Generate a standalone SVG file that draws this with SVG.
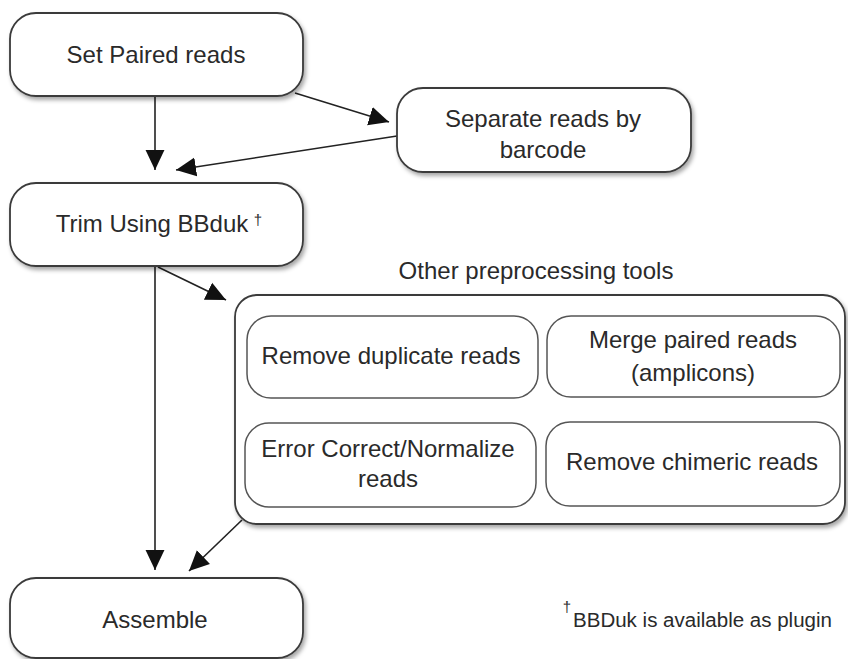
<svg xmlns="http://www.w3.org/2000/svg" width="848" height="659" viewBox="0 0 848 659">
<style>
.box{fill:#fff;stroke:#3a3a3a;stroke-width:1.8;filter:url(#sh)}
.inner{fill:#fff;stroke:#555;stroke-width:1.5}
text{font-family:"Liberation Sans",Arial,sans-serif;font-size:24px;fill:#2a2a2a;text-anchor:middle}
.edge{stroke:#222;stroke-width:1.6;fill:none;marker-end:url(#ah)}
</style>
<defs>
<filter id="sh" x="-10%" y="-10%" width="125%" height="130%">
<feDropShadow dx="2" dy="3" stdDeviation="2" flood-color="#000" flood-opacity="0.35"/>
</filter>
<marker id="ah" markerUnits="userSpaceOnUse" markerWidth="20" markerHeight="20" viewBox="0 0 18 18" refX="18" refY="9" orient="auto">
<path d="M0,0.5 L18,9 L0,17.5 Z" fill="#111"/>
</marker>
</defs>
<g id="connectors">
<line class="edge" x1="155" y1="97" x2="155" y2="170"/>
<line class="edge" x1="295" y1="93" x2="389" y2="122"/>
<line class="edge" x1="397" y1="136" x2="176" y2="170"/>
<line class="edge" x1="155" y1="267" x2="155" y2="570"/>
<line class="edge" x1="158" y1="267" x2="226" y2="300"/>
<line class="edge" x1="242" y1="520" x2="189" y2="571"/>
</g>
<g id="set-paired">
<rect class="box" x="10" y="13" width="293" height="83" rx="26"/>
<text x="156" y="63">Set Paired reads</text>
</g>
<g id="separate">
<rect class="box" x="397" y="88" width="294" height="84" rx="26"/>
<text x="543" y="127">Separate reads by</text>
<text x="543" y="158">barcode</text>
</g>
<g id="trim">
<rect class="box" x="10" y="183" width="293" height="83" rx="26"/>
<text x="152" y="232">Trim Using BBduk</text>
<text x="258" y="225" style="font-size:15px">†</text>
</g>
<g id="other-tools">
<text x="536" y="279">Other preprocessing tools</text>
<rect class="box" x="235" y="295" width="610" height="229" rx="22"/>
</g>
<g id="remove-dup">
<rect class="inner" x="247" y="316" width="291" height="82" rx="24"/>
<text x="391" y="364">Remove duplicate reads</text>
</g>
<g id="merge">
<rect class="inner" x="547" y="316" width="293" height="81" rx="24"/>
<text x="693" y="348">Merge paired reads</text>
<text x="693" y="381">(amplicons)</text>
</g>
<g id="error-correct">
<rect class="inner" x="245" y="423" width="291" height="84" rx="24"/>
<text x="388" y="457">Error Correct/Normalize</text>
<text x="388" y="487">reads</text>
</g>
<g id="chimeric">
<rect class="inner" x="546" y="422" width="294" height="84" rx="24"/>
<text x="692" y="470">Remove chimeric reads</text>
</g>
<g id="assemble">
<rect class="box" x="10" y="578" width="293" height="80" rx="26"/>
<text x="155" y="628">Assemble</text>
</g>
<g id="footnote">
<text x="567" y="612" style="font-size:15px">†</text>
<text x="573" y="627" style="font-size:20px;text-anchor:start" textLength="259" lengthAdjust="spacingAndGlyphs">BBDuk is available as plugin</text>
</g>
</svg>
